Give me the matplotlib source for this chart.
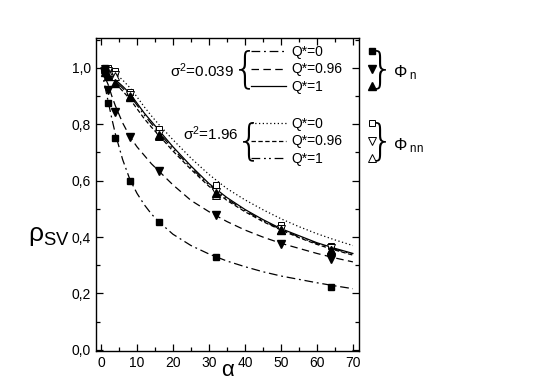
import numpy as np
import matplotlib.pyplot as plt
from matplotlib.lines import Line2D
from matplotlib.ticker import MultipleLocator, FuncFormatter

plt.rcParams['font.family'] = ['Liberation Sans', 'DejaVu Sans']
plt.rcParams['mathtext.fontset'] = 'custom'
plt.rcParams['mathtext.rm'] = 'Liberation Sans'
plt.rcParams['mathtext.it'] = 'Liberation Sans:italic'

# measured points (alpha)
alpha = [1, 2, 4, 8, 16, 32, 50, 64]
phi_n_q0 = [1.0, 0.875, 0.75, 0.60, 0.455, 0.33, np.nan, 0.223]
phi_n_q096 = [0.975, 0.92, 0.845, 0.755, 0.635, 0.48, 0.376, 0.322]
phi_n_q1 = [0.985, 0.97, 0.945, 0.895, 0.762, 0.555, 0.425, 0.355]
phi_nn_q0 = [1.0, 1.0, 0.988, 0.915, 0.785, 0.585, 0.443, 0.368]
phi_nn_q096 = [0.995, 0.99, 0.975, 0.905, 0.765, 0.56, 0.43, 0.36]
phi_nn_q1 = [0.995, 0.985, 0.97, 0.90, 0.76, 0.55, 0.425, 0.355]

# fitted curves
a_fit = [0, 1, 2, 3, 4, 6, 8, 10, 12, 14, 16, 20, 25, 30, 35, 40, 45, 50, 55, 60, 65, 70]
s1_q0 = [1.0, 0.94, 0.88, 0.82, 0.765, 0.675, 0.605, 0.555, 0.515, 0.482, 0.455, 0.41, 0.37, 0.34, 0.315, 0.295, 0.277, 0.262, 0.25, 0.238, 0.227, 0.217]
s1_q096 = [1.0, 0.97, 0.94, 0.90, 0.865, 0.805, 0.757, 0.72, 0.69, 0.66, 0.635, 0.585, 0.53, 0.49, 0.455, 0.425, 0.40, 0.378, 0.36, 0.342, 0.326, 0.312]
s1_q1 = [1.0, 0.99, 0.98, 0.97, 0.958, 0.935, 0.91, 0.875, 0.84, 0.81, 0.78, 0.72, 0.652, 0.59, 0.54, 0.498, 0.462, 0.43, 0.405, 0.38, 0.36, 0.342]
s2_q0 = [1.0, 0.998, 0.995, 0.988, 0.98, 0.957, 0.93, 0.897, 0.862, 0.83, 0.80, 0.745, 0.68, 0.622, 0.572, 0.532, 0.497, 0.465, 0.437, 0.412, 0.39, 0.37]
s2_q096 = [1.0, 0.988, 0.975, 0.96, 0.945, 0.918, 0.89, 0.855, 0.82, 0.79, 0.762, 0.705, 0.64, 0.58, 0.53, 0.49, 0.455, 0.425, 0.398, 0.374, 0.354, 0.336]
s2_q1 = [1.0, 0.99, 0.978, 0.966, 0.953, 0.928, 0.902, 0.868, 0.833, 0.802, 0.772, 0.713, 0.646, 0.585, 0.535, 0.494, 0.458, 0.427, 0.401, 0.377, 0.357, 0.339]

ls_dd = (0, (7, 3, 1.5, 3))
ls_da = (0, (6, 3.5))
ls_dt = (0, (1, 2))
ls_da2 = (0, (3.5, 2))
ls_ddd = (0, (7, 3, 1.5, 2.5, 1.5, 3))

W, H = 549, 382
fig = plt.figure(figsize=(W / 100, H / 100), dpi=100)
ax = fig.add_axes([96 / W, 1 - 351 / H, 263 / W, 313 / H])

lw = 0.9
ax.plot(a_fit, s1_q0, color='black', lw=lw, ls=ls_dd)
ax.plot(a_fit, s1_q096, color='black', lw=lw, ls=ls_da)
ax.plot(a_fit, s1_q1, color='black', lw=lw, ls='-')
ax.plot(a_fit, s2_q0, color='black', lw=lw, ls=ls_dt)
ax.plot(a_fit, s2_q096, color='black', lw=lw, ls=ls_da2)
ax.plot(a_fit, s2_q1, color='black', lw=lw, ls=ls_ddd)

ms_sq, ms_tri = 4.5, 6
ax.plot(alpha, phi_nn_q0, ls='none', marker='s', ms=ms_sq, mfc='white', mec='black', mew=0.7)
ax.plot(alpha, phi_nn_q096, ls='none', marker='v', ms=ms_tri, mfc='white', mec='black', mew=0.7)
ax.plot(alpha, phi_nn_q1, ls='none', marker='^', ms=ms_tri, mfc='white', mec='black', mew=0.7)
ax.plot(alpha, phi_n_q0, ls='none', marker='s', ms=ms_sq, color='black')
ax.plot(alpha, phi_n_q096, ls='none', marker='v', ms=ms_tri, color='black')
ax.plot(alpha, phi_n_q1, ls='none', marker='^', ms=ms_tri, color='black')

ax.set_xlim(-1.4, 71.7)
ax.set_ylim(-0.004, 1.106)
ax.xaxis.set_major_locator(MultipleLocator(10))
ax.xaxis.set_minor_locator(MultipleLocator(5))
ax.yaxis.set_major_locator(MultipleLocator(0.2))
ax.yaxis.set_minor_locator(MultipleLocator(0.1))
ax.yaxis.set_major_formatter(FuncFormatter(lambda v, p: f'{v:.1f}'.replace('.', ',')))
ax.tick_params(which='both', direction='in', top=True, right=True, labelsize=10, width=0.9)
ax.tick_params(which='major', length=5)
ax.tick_params(which='minor', length=3)
for s in ax.spines.values():
    s.set_linewidth(1.0)

ax.set_xlabel('α', fontsize=16, labelpad=-7)
ax.set_ylabel(r'$\mathrm{ρ}_{\mathrm{SV}}$', fontsize=19, rotation=0)
ax.yaxis.set_label_coords(-0.18, 0.33)

# line-style legends
h1 = [Line2D([], [], color='black', lw=lw, ls=ls_dd),
      Line2D([], [], color='black', lw=lw, ls=ls_da),
      Line2D([], [], color='black', lw=lw, ls='-')]
h2 = [Line2D([], [], color='black', lw=lw, ls=ls_dt),
      Line2D([], [], color='black', lw=lw, ls=ls_da2),
      Line2D([], [], color='black', lw=lw, ls=ls_ddd)]
qlabels = ['Q*=0', 'Q*=0.96', 'Q*=1']
kw = dict(loc='upper left', frameon=False, fontsize=10, borderpad=0, borderaxespad=0,
          handlelength=2.5, handletextpad=0.4, labelspacing=0.25)
fig.legend(h1, qlabels, bbox_to_anchor=(251 / W, 1 - 45 / H), **kw)
fig.legend(h2, qlabels, bbox_to_anchor=(251 / W, 1 - 117 / H), **kw)

# marker legends
m1 = [Line2D([], [], ls='none', marker='s', ms=ms_sq, color='black'),
      Line2D([], [], ls='none', marker='v', ms=ms_tri, color='black'),
      Line2D([], [], ls='none', marker='^', ms=ms_tri, color='black')]
m2 = [Line2D([], [], ls='none', marker='s', ms=ms_sq, mfc='white', mec='black', mew=0.7),
      Line2D([], [], ls='none', marker='v', ms=ms_tri, mfc='white', mec='black', mew=0.7),
      Line2D([], [], ls='none', marker='^', ms=ms_tri, mfc='white', mec='black', mew=0.7)]
kwm = dict(kw, handlelength=1.0, handletextpad=0)
fig.legend(m1, ['', '', ''], bbox_to_anchor=(365 / W, 1 - 45 / H), **kwm)
fig.legend(m2, ['', '', ''], bbox_to_anchor=(365 / W, 1 - 117 / H), **kwm)

fig.text(234 / W, 1 - 71 / H, r'$\mathrm{σ}^2$=0.039', fontsize=11, ha='right', va='center')
fig.text(239 / W, 1 - 134 / H, r'$\mathrm{σ}^2$=1.96', fontsize=11, ha='right', va='center')
for bx, by, ch in [(245, 70, '{'), (249, 142, '{'), (381, 70, '}'), (381, 142, '}')]:
    fig.text(bx / W, 1 - by / H, ch, fontsize=30, ha='center', va='center',
             family='DejaVu Sans', fontweight='light')
fig.text(393 / W, 1 - 73 / H, r'$\mathrm{Φ}_{\mathrm{\ n}}$', fontsize=12, ha='left', va='center')
fig.text(393 / W, 1 - 146 / H, r'$\mathrm{Φ}_{\mathrm{\ nn}}$', fontsize=12, ha='left', va='center')

fig.savefig('out.png', dpi=100)
